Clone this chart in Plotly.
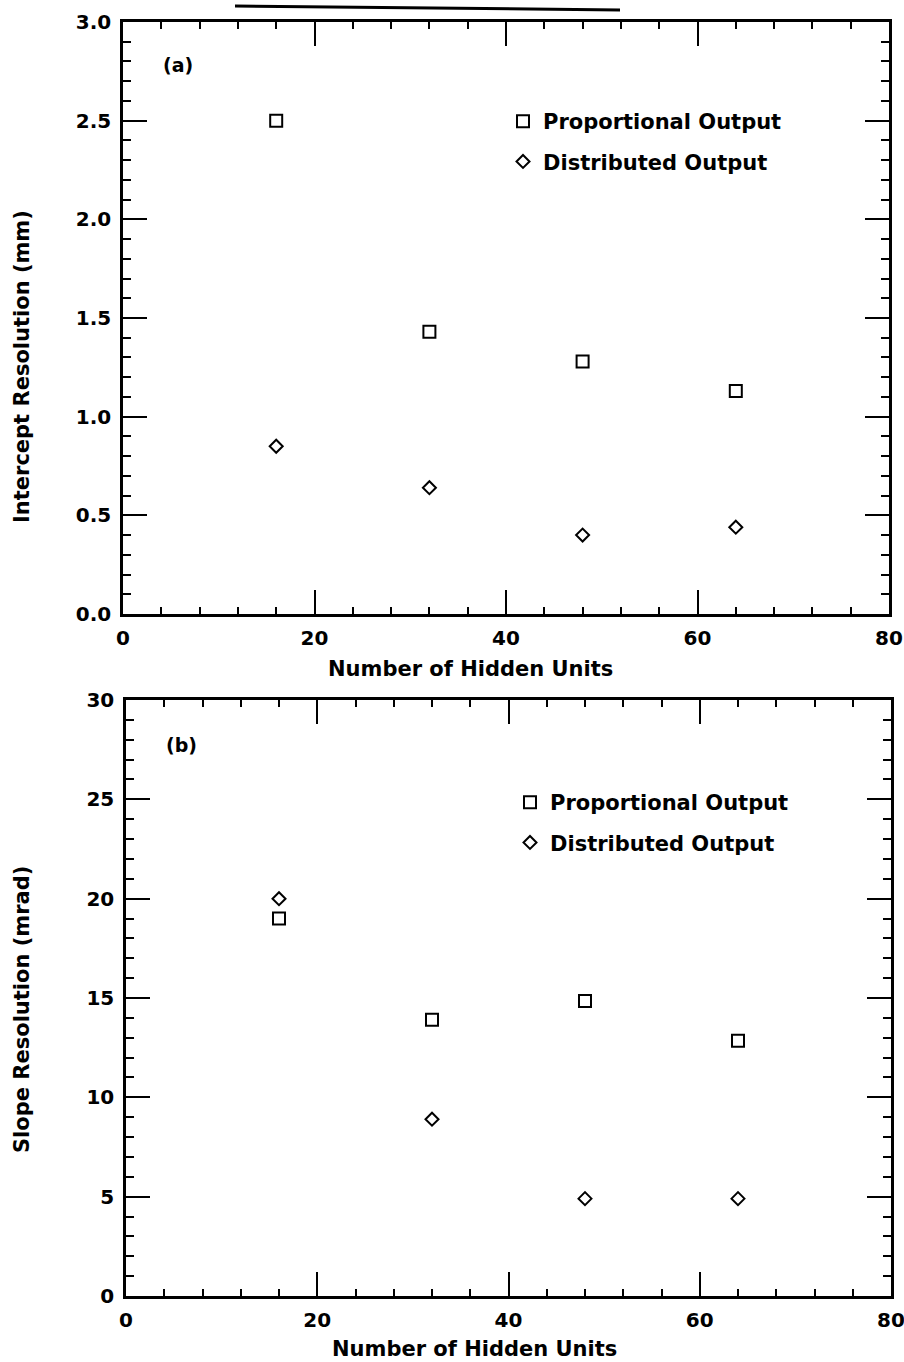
import plotly.graph_objects as go

hidden_units = [16, 32, 48, 64]
intercept_prop = [2.50, 1.43, 1.28, 1.13]
intercept_dist = [0.85, 0.64, 0.40, 0.44]
slope_prop = [19.0, 13.9, 14.85, 12.85]
slope_dist = [20.0, 8.9, 4.9, 4.9]

FONT = "DejaVu Sans"
fig = go.Figure()

sq = dict(symbol="square-open", size=12, color="black", line=dict(width=2, color="black"))
dm = dict(symbol="diamond-open", size=10, color="black", line=dict(width=2, color="black"))

fig.add_trace(go.Scatter(x=hidden_units, y=intercept_prop, mode="markers", marker=sq,
                         name="Proportional Output", xaxis="x", yaxis="y", legend="legend", legendgroup="a1"))
fig.add_trace(go.Scatter(x=hidden_units, y=intercept_dist, mode="markers", marker=dm,
                         name="Distributed Output", xaxis="x", yaxis="y", legend="legend", legendgroup="a2"))
fig.add_trace(go.Scatter(x=hidden_units, y=slope_prop, mode="markers", marker=sq,
                         name="Proportional Output", xaxis="x2", yaxis="y2", legend="legend2", legendgroup="b1"))
fig.add_trace(go.Scatter(x=hidden_units, y=slope_dist, mode="markers", marker=dm,
                         name="Distributed Output", xaxis="x2", yaxis="y2", legend="legend2", legendgroup="b2"))

W, H = 904, 1362
def px_x(p): return p / W
def px_y(p): return 1 - p / H

tickfont = dict(family=FONT, size=20, color="black", weight="bold")
common_x = dict(range=[0, 80], tickvals=[0, 20, 40, 60, 80], ticks="inside", ticklen=24, tickwidth=1.5,
                tickcolor="black", showline=True, linewidth=2.5, linecolor="black", mirror="ticks",
                showgrid=False, zeroline=False, tickfont=tickfont, automargin=False,
                ticklabeloverflow="allow", ticklabelstandoff=4,
                minor=dict(ticks="inside", ticklen=7, tickwidth=1.5, dtick=4, tickcolor="black", showgrid=False))
common_y = dict(ticks="inside", ticklen=24, tickwidth=2, tickcolor="black", showline=True, linewidth=2.5,
                linecolor="black", mirror="ticks", showgrid=False, zeroline=False, tickfont=tickfont,
                automargin=False, ticklabeloverflow="allow", ticklabelstandoff=5)

legfont = dict(family=FONT, size=21, color="black", weight="bold")
fig.update_layout(
    width=W, height=H,
    margin=dict(l=0, r=0, t=0, b=0),
    paper_bgcolor="white", plot_bgcolor="white",
    font=dict(family=FONT, color="black"),
    xaxis=dict(common_x, domain=[px_x(123), px_x(889)], anchor="y"),
    yaxis=dict(common_y, domain=[px_y(614), px_y(22)], anchor="x", range=[0, 3.0],
               tickvals=[0, 0.5, 1.0, 1.5, 2.0, 2.5, 3.0], ticktext=["0.0", "0.5", "1.0", "1.5", "2.0", "2.5", "3.0"],
               minor=dict(ticks="inside", ticklen=8, tickwidth=2, dtick=0.1, tickcolor="black", showgrid=False)),
    xaxis2=dict(common_x, domain=[px_x(126), px_x(891)], anchor="y2"),
    yaxis2=dict(common_y, domain=[px_y(1296), px_y(700)], anchor="x2", range=[0, 30],
                tickvals=[0, 5, 10, 15, 20, 25, 30],
                minor=dict(ticks="inside", ticklen=8, tickwidth=2, dtick=1, tickcolor="black", showgrid=False)),
    legend=dict(x=px_x(503), y=px_y(101), xanchor="left", yanchor="top", bgcolor="rgba(0,0,0,0)",
                font=legfont, tracegroupgap=10, traceorder="grouped", itemwidth=30),
    legend2=dict(x=px_x(510), y=px_y(782), xanchor="left", yanchor="top", bgcolor="rgba(0,0,0,0)",
                 font=legfont, tracegroupgap=10, traceorder="grouped", itemwidth=30),
    showlegend=True,
)

lab = dict(family=FONT, size=21, color="black", weight="bold")
ann = dict(xref="paper", yref="paper", showarrow=False, xanchor="center", yanchor="middle")
fig.add_annotation(text="Intercept Resolution (mm)", x=px_x(22), y=px_y(367), textangle=-90, font=lab, **ann)
fig.add_annotation(text="Slope Resolution (mrad)", x=px_x(22), y=px_y(1010), textangle=-90, font=lab, **ann)
fig.add_annotation(text="Number of Hidden Units", x=px_x(470), y=px_y(669), font=lab, **ann)
fig.add_annotation(text="Number of Hidden Units", x=px_x(474), y=px_y(1349), font=lab, **ann)
fig.add_annotation(text="(a)", x=px_x(178), y=px_y(65), font=dict(family=FONT, size=19, color="black", weight="bold"), **ann)
fig.add_annotation(text="(b)", x=px_x(181), y=px_y(745), font=dict(family=FONT, size=19, color="black", weight="bold"), **ann)

# stray line from scanned page at the top
fig.add_shape(type="line", xref="paper", yref="paper", x0=px_x(235), y0=px_y(6), x1=px_x(620), y1=px_y(10),
              line=dict(color="black", width=3))

fig.write_html("out.html", config={"displayModeBar": False},
               post_script="document.body.style.margin='0';document.body.style.overflow='hidden';")
